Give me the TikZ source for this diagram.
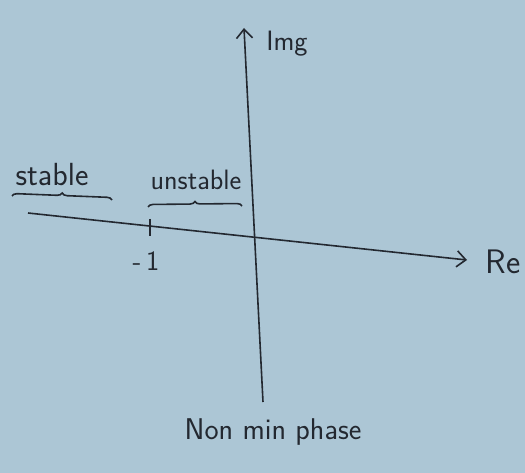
\documentclass[tikz,border=0pt]{standalone}
\usetikzlibrary{decorations.pathreplacing,arrows.meta}
\definecolor{paper}{RGB}{172,198,213}
\definecolor{ink}{RGB}{35,40,48}
\begin{document}
\begin{tikzpicture}[x=1pt,y=-1pt,
  axis/.style={draw=ink,line width=1.6pt},
  lbl/.style={text=ink,inner sep=1pt,font=\sffamily},
  bracestyle/.style={draw=ink,line width=1.6pt,decorate,decoration={brace,amplitude=5pt,mirror}}]
\fill[paper] (0,0) rectangle (525,473);
\useasboundingbox (0,0) rectangle (525,473);
\coordinate (xs) at (28,213);
\coordinate (xe) at (467,260);
\coordinate (ys) at (263,402);
\coordinate (ye) at (244,28);
\coordinate (t1) at (150,219);
\coordinate (t2) at (150,236);
\coordinate (b1s) at (12,196);
\coordinate (b1e) at (112,200);
\coordinate (b2s) at (148,207);
\coordinate (b2e) at (242,206);
\draw[axis,-{Straight Barb[length=9pt,width=16pt]}] (xs) -- (xe);
\draw[axis,-{Straight Barb[length=9pt,width=16pt]}] (ys) -- (ye);
\draw[axis] (t1) -- (t2);
\draw[bracestyle] (b1e) -- (b1s);
\draw[bracestyle] (b2e) -- (b2s);
\node[lbl,font=\sffamily\fontsize{28}{32}\selectfont] (m1) at (146,261) {-\,1};
\node[lbl,font=\sffamily\fontsize{32}{36}\selectfont] (stable) at (52,175) {stable};
\node[lbl,font=\sffamily\fontsize{28}{32}\selectfont] (unstable) at (196,180) {unstable};
\node[lbl,font=\sffamily\fontsize{28}{32}\selectfont] (img) at (287,44) {Img};
\node[lbl,font=\sffamily\fontsize{34}{38}\selectfont] (re) at (503,262) {Re};
\node[lbl,font=\sffamily\fontsize{30}{34}\selectfont] (nmp) at (273,432) {Non min phase};
\end{tikzpicture}
\end{document}
